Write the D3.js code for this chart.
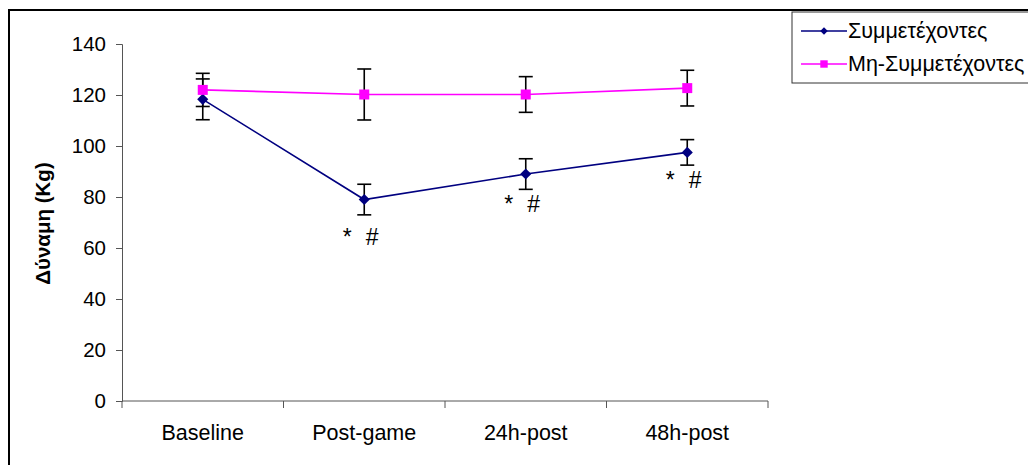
<!DOCTYPE html>
<html>
  <head>
    <meta charset="UTF-8">
    <title>Δύναμη (Kg)</title>
    <style>
      body { margin: 0; background: #fff; }
      text { font-family: "Liberation Sans", Arial, sans-serif; }
    </style>
  </head>
  <body>
    <svg></svg>
    <script src="https://d3js.org/d3.v7.min.js"></script>
    <script>

// data
var categories = ["Baseline", "Post-game", "24h-post", "48h-post"];
var seriesNames = ["Συμμετέχοντες", "Μη-Συμμετέχοντες"];
var participants = [118.3, 79, 89, 97.5];
var participantsErr = [8, 6, 6, 5];
var nonParticipants = [122, 120.2, 120.2, 122.7];
var nonParticipantsErr = [6.5, 10, 7, 7];
// height of the "* #" marks under the participant points
var markValues = [null, 61, 74, 83.5];
var yTicks = [0, 20, 40, 60, 80, 100, 120, 140];

var config = {
  width: 1028,
  height: 465,
  plot: { left: 122, right: 768, top: 44, bottom: 401 },
  navy: "#000080",
  pink: "#ff00ff"
};

var svg = d3.select("svg")
  .attr("width", config.width)
  .attr("height", config.height);

// outer frame (runs off the right and bottom edges)
svg.append("path")
  .attr("d", "M9," + (config.height + 5) + "V10H" + (config.width + 5))
  .attr("fill", "none")
  .attr("stroke", "#000")
  .attr("stroke-width", 2);

var x = d3.scaleBand()
  .domain(categories)
  .range([config.plot.left, config.plot.right]);

var y = d3.scaleLinear()
  .domain([0, 140])
  .range([config.plot.bottom, config.plot.top]);

function cx(d) { return x(d) + x.bandwidth() / 2; }

// y axis
var yAxis = svg.append("g")
  .attr("transform", "translate(" + config.plot.left + ",0)")
  .call(d3.axisLeft(y).tickValues(yTicks).tickSize(6).tickPadding(10));
yAxis.select(".domain").attr("stroke", "#555");
yAxis.selectAll(".tick line").attr("stroke", "#555");
yAxis.selectAll(".tick text")
  .attr("font-size", 20.5)
  .attr("fill", "#000")
  .style("font-family", "'Liberation Sans', Arial, sans-serif");

// x axis: ticks sit on the category edges
var xg = svg.append("g").attr("class", "x-axis");
xg.append("line")
  .attr("x1", config.plot.left).attr("x2", config.plot.right)
  .attr("y1", y(0)).attr("y2", y(0))
  .attr("stroke", "#555");
var edges = categories.map(function(c) { return x(c); }).concat([config.plot.right]);
xg.selectAll("line.edge")
  .data(edges)
  .enter().append("line")
    .attr("class", "edge")
    .attr("x1", function(d) { return d; })
    .attr("x2", function(d) { return d; })
    .attr("y1", y(0))
    .attr("y2", y(0) + 7)
    .attr("stroke", "#555");
xg.selectAll("text")
  .data(categories)
  .enter().append("text")
    .attr("x", cx)
    .attr("y", y(0) + 39)
    .attr("text-anchor", "middle")
    .attr("font-size", 21.5)
    .text(function(d) { return d; });

// y axis title
svg.append("text")
  .attr("transform", "translate(50," + ((config.plot.top + config.plot.bottom) / 2 + 1) + ") rotate(-90)")
  .attr("text-anchor", "middle")
  .attr("font-size", 20.5)
  .attr("font-weight", "bold")
  .text("Δύναμη (Kg)");

var series = [
  { name: seriesNames[0], values: participants, err: participantsErr, color: config.navy, diamond: true, size: 62, legendSize: 28 },
  { name: seriesNames[1], values: nonParticipants, err: nonParticipantsErr, color: config.pink, diamond: false, size: 100, legendSize: 55 }
];

var line = d3.line()
  .x(function(d, i) { return cx(categories[i]); })
  .y(function(d) { return y(d); });

// lines first, then error bars, then markers on top
series.forEach(function(s) {
  svg.append("path")
    .attr("d", line(s.values))
    .attr("fill", "none")
    .attr("stroke", s.color)
    .attr("stroke-width", 1.6);
});

series.forEach(function(s) {
  var g = svg.append("g").attr("stroke", "#000").attr("stroke-width", 1.6);
  s.values.forEach(function(v, i) {
    var px = cx(categories[i]);
    var top = y(v + s.err[i]), bot = y(v - s.err[i]);
    g.append("line").attr("x1", px).attr("x2", px).attr("y1", top).attr("y2", bot);
    g.append("line").attr("x1", px - 7).attr("x2", px + 7).attr("y1", top).attr("y2", top);
    g.append("line").attr("x1", px - 7).attr("x2", px + 7).attr("y1", bot).attr("y2", bot);
  });
});

series.forEach(function(s) {
  svg.append("g")
    .selectAll("path")
    .data(s.values)
    .enter().append("path")
      .attr("d", d3.symbol().type(d3.symbolSquare).size(s.size))
      .attr("transform", function(d, i) {
        var t = "translate(" + cx(categories[i]) + "," + y(d) + ")";
        return s.diamond ? t + " rotate(45)" : t;
      })
      .attr("fill", s.color);
});

// significance marks
var marks = svg.append("g").attr("font-size", 23).attr("text-anchor", "middle");
markValues.forEach(function(v, i) {
  if (v === null) return;
  var px = cx(categories[i]);
  marks.append("text").attr("x", px - 17).attr("y", y(v)).text("*");
  marks.append("text").attr("x", px + 8).attr("y", y(v)).text("#");
});

// legend
var legend = svg.append("g").attr("transform", "translate(792,12)");
legend.append("rect")
  .attr("x", 0).attr("y", 0)
  .attr("width", 260).attr("height", 71)
  .attr("fill", "#fff")
  .attr("stroke", "#333")
  .attr("stroke-width", 1);
series.forEach(function(s, i) {
  var ly = 19 + i * 33;
  legend.append("line")
    .attr("x1", 9).attr("x2", 55)
    .attr("y1", ly).attr("y2", ly)
    .attr("stroke", s.color)
    .attr("stroke-width", 1.6);
  legend.append("path")
    .attr("d", d3.symbol().type(d3.symbolSquare).size(s.legendSize))
    .attr("transform", "translate(32," + ly + ")" + (s.diamond ? " rotate(45)" : ""))
    .attr("fill", s.color);
  legend.append("text")
    .attr("x", 56)
    .attr("y", ly + 7)
    .attr("font-size", 21.5)
    .text(s.name);
});

    </script>
  </body>
</html>
